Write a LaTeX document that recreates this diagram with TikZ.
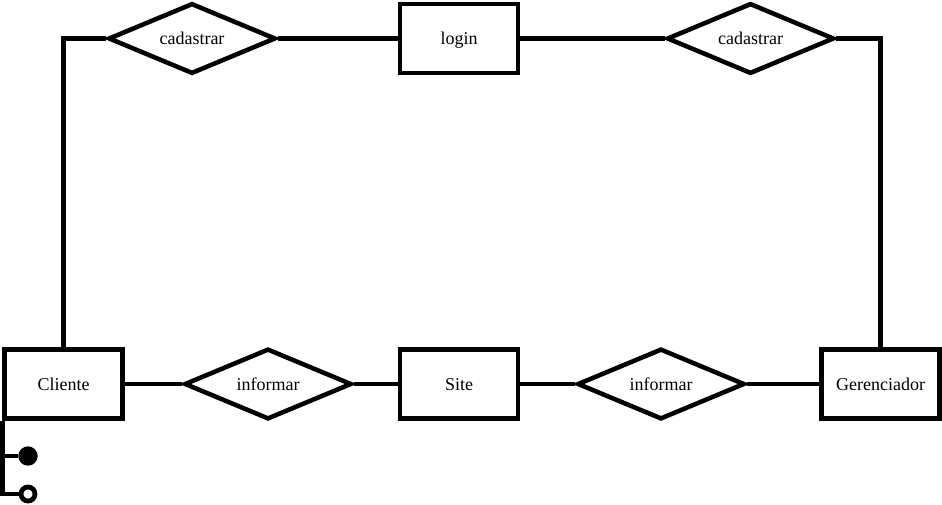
\documentclass[tikz,border=0pt]{standalone}
\usepackage{fontspec}
\setmainfont{Liberation Serif}
\usetikzlibrary{shapes.geometric}
\begin{document}
\begin{tikzpicture}[x=0.75pt,y=-0.75pt,
  every node/.style={font=\fontsize{13.5}{16}\selectfont},
  ent/.style={draw,line width=3.4pt,minimum width=88.5pt,minimum height=51.5pt,inner sep=0pt,text height=10pt,text depth=1pt},
  rel/.style={draw,diamond,line width=3.4pt,aspect=2.5,minimum width=125.5pt,minimum height=53pt,inner sep=0pt,text height=10pt,text depth=1pt},
  conn/.style={line width=3.4pt},
  dotf/.style={circle,fill=black,minimum size=14.5pt,inner sep=0pt},
  doto/.style={circle,draw,fill=white,line width=3.6pt,minimum size=10.5pt,inner sep=0pt}]
\useasboundingbox (0,0) rectangle (942,504);
\node[rel] (dcL) at (192,38.5) {cadastrar};
\node[ent] (login) at (459,38.5) {login};
\node[rel] (dcR) at (750.5,38.5) {cadastrar};
\node[ent] (cli) at (63.5,384) {Cliente};
\node[rel] (diL) at (268,384) {informar};
\node[ent] (site) at (459,384) {Site};
\node[rel] (diR) at (661,384) {informar};
\node[ent] (ger) at (880.5,384) {Gerenciador};
\node[dotf] (f) at (28,456) {};
\node[doto] (o) at (28,494) {};
\coordinate (k) at (cli.south west |- f);
\draw[conn] (cli.north) |- (dcL.west);
\draw[conn] (dcL.east) -- (login.west);
\draw[conn] (login.east) -- (dcR.west);
\draw[conn] (dcR.east) -| (ger.north);
\draw[conn] (cli.east) -- (diL.west);
\draw[conn] (diL.east) -- (site.west);
\draw[conn] (site.east) -- (diR.west);
\draw[conn] (diR.east) -- (ger.west);
\draw[conn] (cli.south west) |- (o.west);
\draw[conn] (k) -- (f.west);
\end{tikzpicture}
\end{document}
